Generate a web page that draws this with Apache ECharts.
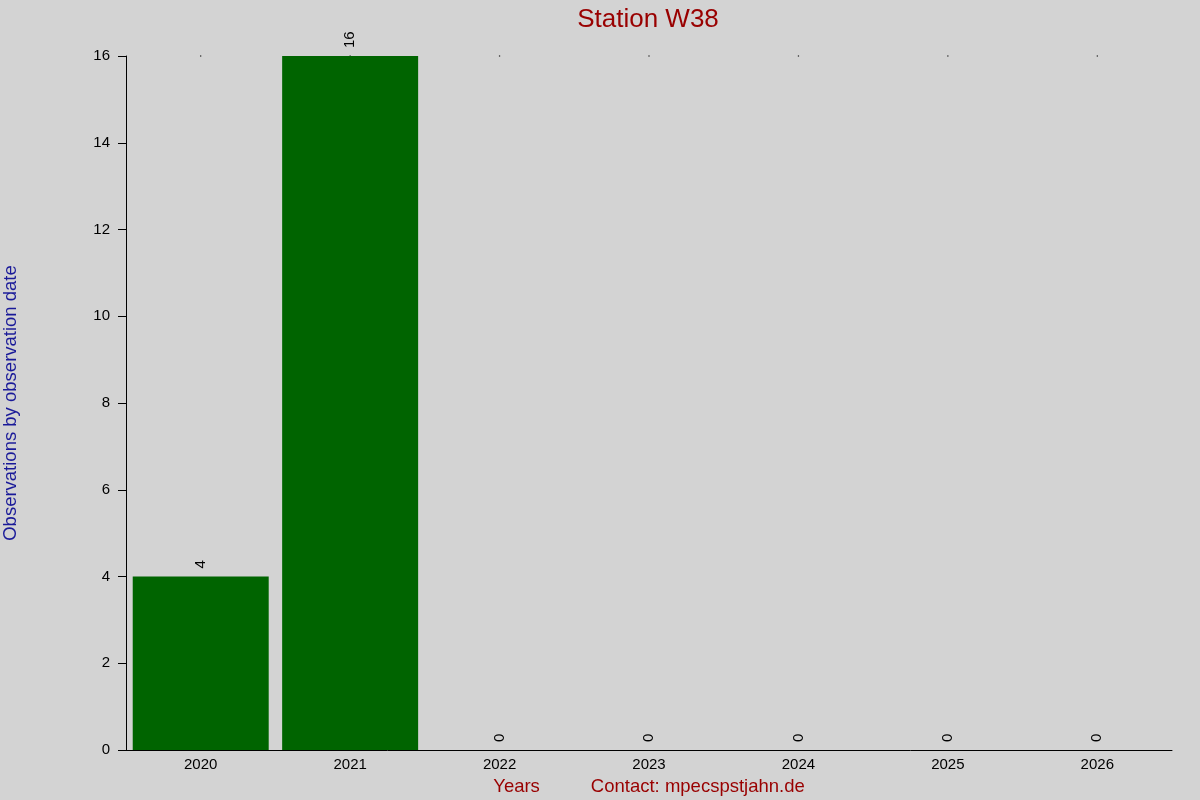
<!DOCTYPE html>
<html>
<head>
<meta charset="utf-8">
<script src="https://cdn.jsdelivr.net/npm/echarts@6/dist/echarts.min.js"></script>
<style>
  html, body { margin: 0; padding: 0; background: #d3d3d3; }
  #chart { width: 1200px; height: 800px; }
</style>
</head>
<body>
<div id="chart"></div>
<script>
const years = ['2020', '2021', '2022', '2023', '2024', '2025', '2026'];
const observations = [4, 16, 0, 0, 0, 0, 0];
const topDots = [16, 16, 16, 16, 16, 16, 16];
const yTicks = { min: 0, max: 16, interval: 2 };

const elem = document.getElementById('chart');
const myChart = echarts.init(elem, null, {});
const font = 'Liberation Sans, Arial, sans-serif';

myChart.setOption({
    backgroundColor: '#d3d3d3',
    animation: false,
    title: {
        text: 'Station W38',
        left: 643,
        top: 2,
        textAlign: 'center',
        textStyle: { color: '#990000', fontSize: 26, fontWeight: 'normal', fontFamily: font }
    },
    grid: { left: 126, right: 28, top: 56, bottom: 50, containLabel: false, outerBoundsMode: 'none' },
    xAxis: {
        type: 'category',
        data: years,
        boundaryGap: true,
        name: '{a|Years}{b|Contact: mpecspstjahn.de}',
        nameLocation: 'middle',
        nameGap: 27,
        nameTextStyle: {
            rich: {
                a: { color: '#990000', fontSize: 18.5, fontFamily: font },
                b: { color: '#990000', fontSize: 18.5, fontFamily: font, padding: [0, 0, 0, 51] }
            }
        },
        axisLine: { lineStyle: { color: '#000', width: 1 } },
        axisTick: { show: false },
        axisLabel: { color: '#000', fontSize: 15, fontFamily: font, margin: 7 },
        splitLine: { show: false }
    },
    yAxis: {
        type: 'value',
        min: yTicks.min,
        max: yTicks.max,
        interval: yTicks.interval,
        name: 'Observations by observation date',
        nameLocation: 'middle',
        nameGap: 106,
        nameTextStyle: { color: '#1a1a99', fontSize: 18.5, fontFamily: font },
        axisLine: { show: true, lineStyle: { color: '#000', width: 1 } },
        axisTick: { show: true, length: 8, lineStyle: { color: '#000' } },
        axisLabel: { color: '#000', fontSize: 15, fontFamily: font, margin: 16 },
        splitLine: { show: false }
    },
    series: [{
        type: 'scatter',
        data: topDots,
        symbolSize: 1.5,
        itemStyle: { color: '#000' },
        silent: true,
        z: 1
    }, {
        type: 'bar',
        data: observations,
        barWidth: '91%',
        itemStyle: { color: '#006400' },
        z: 2,
        label: {
            show: true,
            position: 'top',
            rotate: 90,
            align: 'left',
            verticalAlign: 'middle',
            distance: 8,
            color: '#000',
            fontSize: 15,
            fontFamily: font
        }
    }]
});

window.addEventListener('resize', function () {
    myChart.resize();
});
</script>
</body>
</html>
